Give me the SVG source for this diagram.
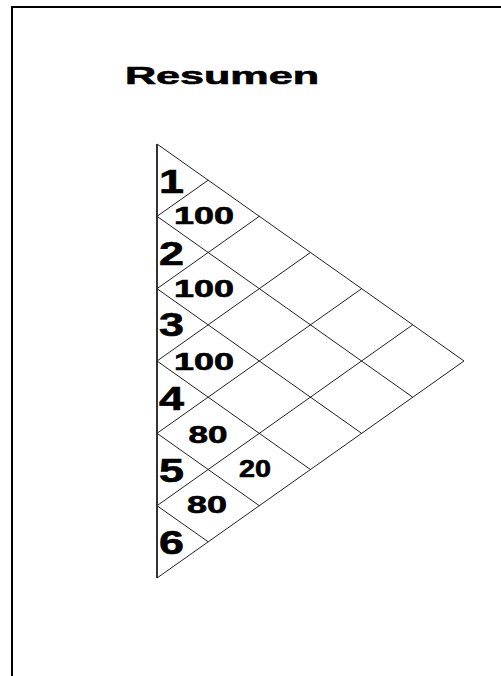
<svg xmlns="http://www.w3.org/2000/svg" width="501" height="676" viewBox="0 0 501 676">
<style>
.frame{fill:none;stroke:#000;stroke-width:2}
.edge{fill:none;stroke:#000;stroke-width:1.6}
.grid{fill:none;stroke:#222;stroke-width:1}
.t{font-family:"Liberation Sans",Arial,sans-serif;font-weight:bold;fill:#000;stroke:#000;stroke-width:0.6}
.title{font-size:24px}
.num{font-size:33px}
.val{font-size:23px}
</style>
<rect x="0" y="0" width="501" height="676" fill="#fff"/>
<g id="frame">
<polyline class="frame" points="12,676 12,7 501,7"/>
</g>
<g id="title">
<text class="t title" x="125" y="84" textLength="194" lengthAdjust="spacingAndGlyphs">Resumen</text>
</g>
<g id="connectors">
<line class="edge" x1="157" y1="144" x2="157" y2="578"/>
<line class="grid" x1="157" y1="144" x2="464" y2="361"/>
<line class="grid" x1="157" y1="216.3" x2="412.7" y2="397.2"/>
<line class="grid" x1="157" y1="288.7" x2="361.6" y2="433.3"/>
<line class="grid" x1="157" y1="361" x2="310.4" y2="469.5"/>
<line class="grid" x1="157" y1="433.3" x2="259.3" y2="505.7"/>
<line class="grid" x1="157" y1="505.7" x2="208.2" y2="541.8"/>
<line class="grid" x1="157" y1="216.3" x2="208.2" y2="180.2"/>
<line class="grid" x1="157" y1="288.7" x2="259.3" y2="216.3"/>
<line class="grid" x1="157" y1="361" x2="310.4" y2="252.5"/>
<line class="grid" x1="157" y1="433.3" x2="361.6" y2="288.7"/>
<line class="grid" x1="157" y1="505.7" x2="412.7" y2="324.8"/>
<line class="grid" x1="157" y1="578" x2="464" y2="361"/>
</g>
<g id="n1"><text class="t num" x="159" y="192.5" textLength="25" lengthAdjust="spacingAndGlyphs">1</text></g>
<g id="n2"><text class="t num" x="159" y="265" textLength="25" lengthAdjust="spacingAndGlyphs">2</text></g>
<g id="n3"><text class="t num" x="159" y="336" textLength="25" lengthAdjust="spacingAndGlyphs">3</text></g>
<g id="n4"><text class="t num" x="159" y="409.5" textLength="25" lengthAdjust="spacingAndGlyphs">4</text></g>
<g id="n5"><text class="t num" x="159" y="482" textLength="25" lengthAdjust="spacingAndGlyphs">5</text></g>
<g id="n6"><text class="t num" x="159" y="554" textLength="25" lengthAdjust="spacingAndGlyphs">6</text></g>
<g id="v1"><text class="t val" x="174" y="224" textLength="60" lengthAdjust="spacingAndGlyphs">100</text></g>
<g id="v2"><text class="t val" x="174" y="297" textLength="60" lengthAdjust="spacingAndGlyphs">100</text></g>
<g id="v3"><text class="t val" x="174" y="370" textLength="60" lengthAdjust="spacingAndGlyphs">100</text></g>
<g id="v4"><text class="t val" x="188.5" y="442.5" textLength="39" lengthAdjust="spacingAndGlyphs">80</text></g>
<g id="v5"><text class="t val" x="239" y="477" textLength="32" lengthAdjust="spacingAndGlyphs">20</text></g>
<g id="v6"><text class="t val" x="187" y="513" textLength="40" lengthAdjust="spacingAndGlyphs">80</text></g>
</svg>
